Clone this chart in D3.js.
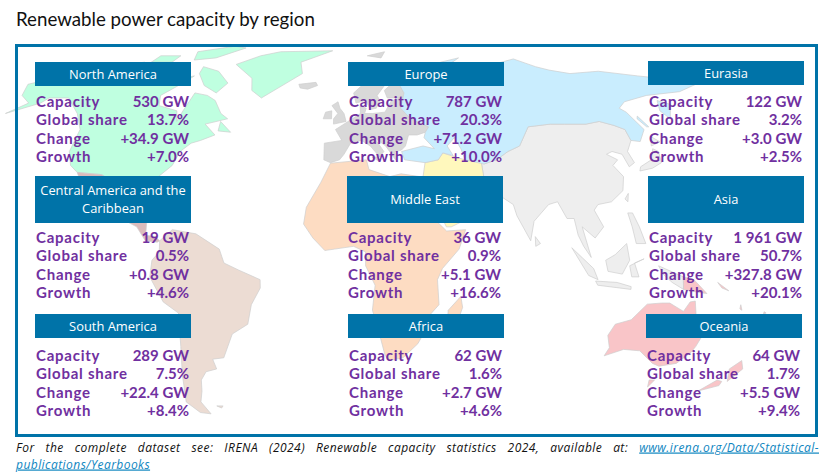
<!DOCTYPE html>
<html>
<head>
<meta charset="utf-8">
<script src="https://cdn.jsdelivr.net/npm/d3@7"></script>
<style>
html,body{margin:0;padding:0;background:#fff;}
svg{display:block;}
</style>
</head>
<body>
<div id="chart"></div>
<script>
// values
var regions = ["North America","Europe","Eurasia","Central America and the Caribbean","Middle East","Asia","South America","Africa","Oceania"];
var capacity = [530,787,122,19,36,1961,289,62,64];
var globalShare = [13.7,20.3,3.2,0.5,0.9,50.7,7.5,1.6,1.7];
var change = [34.9,71.2,3.0,0.8,5.1,327.8,22.4,2.7,5.5];
var growth = [7.0,10.0,2.5,4.6,16.6,20.1,8.4,4.6,9.4];
var rowLabels = ["Capacity","Global share","Change","Growth"];

// where each panel sits
var panelLeft = [35,348,648,35,347,648,35,348,646];
var headerTop = [62,62,61,176,176,176,314,314,314];
var headerHeight = [24,24,24,47,47,47,24,24,24];
var firstBaseline = [107,107,107,243,243,243,361,361,361];

// rough coastlines, [lon,lat]
var northAmerica = [
 [[-168,65.5],[-162,67],[-166,68.5],[-156,71],[-141,70],[-128,70],[-115,68],[-108,68],[-96,68],[-94,72],[-88,68],[-82,69],[-86,66],[-94,61],[-92,57],[-82,55],[-80,51],[-79,55],[-77,62],[-70,61],[-65,59],[-60,54],[-56,52],[-66,50],[-60,46],[-66,44],[-70,43],[-74,40],[-76,35],[-81,31],[-80,25],[-83,29],[-90,30],[-97,28],[-97,26],[-101,29.5],[-106,31.7],[-117,32.5],[-121,35],[-124,40],[-124,48],[-130,54],[-140,60],[-150,60],[-152,58],[-165,54],[-158,58],[-165,61]],
 [[-62,74],[-50,78],[-39,80],[-7,80.5],[-25,75],[-23,70],[-42,60],[-48,63],[-50,68]],
 [[-80,73],[-70,71],[-62,66],[-66,62],[-74,65],[-80,70]],
 [[-117,73],[-105,73],[-102,69],[-115,69]],
 [[-90,80],[-70,83],[-62,82],[-76,77],[-88,76]],
 [[-125,74],[-116,75],[-120,71],[-125,71]],
 [[-110,78],[-98,78],[-100,75],[-112,75]],
 [[-59,51],[-53,47],[-59,47.5]]
];
var centralAmerica = [
 [[-117,32.5],[-106,31.7],[-101,29.5],[-97,26],[-98,22],[-95,18.5],[-91,18.5],[-90,21],[-87,21],[-88,16],[-83,15],[-83,10],[-79,9.5],[-77,8],[-78,7.5],[-83,8],[-87,13],[-94,16],[-105,20],[-109,26],[-113,31],[-110,23],[-115,30]],
 [[-85,22],[-80,23],[-74,20],[-78,20]],
 [[-74,20],[-69,19.5],[-69,18],[-74,18]]
];
var southAmerica = [
 [[-77,8],[-72,12],[-62,10.5],[-52,5],[-50,0],[-44,-2.5],[-35,-6],[-35,-9],[-39,-15],[-41,-22],[-48,-25.5],[-53,-34],[-58,-34.5],[-57,-38],[-62,-39],[-65,-42],[-66,-46],[-68,-50],[-65,-54.5],[-70,-54],[-75,-50],[-73,-40],[-71,-30],[-70,-18],[-76,-14],[-81,-5],[-80,1],[-77,4]],
 [[-61,-51.5],[-58,-51.5],[-59,-52.3]]
];
var africa = [
 [[-6,35.8],[10,37],[11,33.5],[20,31],[25,32],[33,31],[34,28],[37,21],[39,15],[43,11.5],[51,12],[48,5],[41,-2],[39,-6],[40,-15],[35,-20],[35,-24],[32,-29],[26,-34],[20,-35],[18,-33],[14,-22],[12,-17],[13,-8],[9,-1],[9,4],[4,6],[-4,5],[-8,4.5],[-13,9],[-17,14],[-16,20],[-10,29]],
 [[49,-12],[50,-16],[47,-25],[44,-25],[44,-17]]
];
var middleEast = [
 [[36,36],[42,37],[44.5,39.5],[48,38.5],[54,37],[61,36.5],[61,30],[62,25],[57,26],[56,27],[52,27.5],[50,30],[48,30],[50,26],[52,24],[56,25],[59.5,22.5],[55,17],[45,13],[43,13],[39,21],[35,28],[34.5,31]]
];
var europe = [
 [[-9,37],[-9,43],[-1,44],[-4,48],[2,51],[8,54],[8,57],[11,56],[10,54],[14,54],[20,54.5],[24,59],[29,60],[22,60],[21,63],[25,65.5],[22,65.5],[17,61],[18,59],[16,56],[13,55.5],[11,59],[6,58],[5,62],[14,68],[25,71],[31,70],[29,66],[31,62],[28,56],[32,52],[40,49],[38,47],[34,46],[30,46],[28,42],[26,40.5],[23,40],[23,37],[19,42],[14,45],[18,40],[16,38],[12,42],[8,44],[3,43],[0,39],[-2,37],[-6,36]],
 [[-5,50],[1,51],[0,54],[-2,56],[-3,58.5],[-6,57],[-3,54],[-5,52]],
 [[-10,52],[-6,52],[-6,55],[-9,54.5]],
 [[-24,65.5],[-15,66.3],[-14,65],[-19,63.5],[-23,64]],
 [[12.5,38],[15.5,38],[15,36.8]],
 [[14,78],[25,80],[22,77]]
];
var eurasia = [
 [[28,70],[40,67],[44,68],[54,69],[68,69],[72,73],[80,73],[100,76.5],[109,73],[115,71.5],[125,70],[142,71],[161,69],[172,68],[187,65.5],[174,62.5],[155,61],[141,58.5],[136,56],[138,54.5],[141,48],[136,43.6],[132,44],[132,48],[128,49.5],[122,51],[115,50],[105,50],[98,50],[87,49],[80,42],[74,40],[68,37],[62,35.5],[54,37],[53,41],[51,45],[47,42],[49,38.5],[44.5,39.5],[42,37],[36,36],[27,37],[26,40],[36,42],[41,41],[37,45],[38,47],[40,49],[32,52],[28,56],[31,62],[29,66],[31,70]],
 [[52,71],[56,75],[68,77],[58,73]],
 [[158,59],[163,57.5],[157,52],[155,55]],
 [[142,53],[144,49],[143,49],[141,52]]
];
var asia = [
 [[62,35.5],[68,37],[74,40],[80,42],[87,49],[98,50],[105,50],[115,50],[122,51],[128,49.5],[132,48],[132,44],[128,40],[129,36],[126,34.5],[125,39],[121,40],[118,39],[122,37],[119,35],[122,31],[120,26],[114,22],[108,21],[106,19],[109,13],[105,9],[100,13],[103,2],[100,6],[98,10],[97,16],[94,16],[91,22],[87,21],[80,15],[78,8],[73,17],[72,21],[67,24],[62,25],[61,30],[61,36.5]],
 [[130,33],[136,34],[141,36],[142,40],[140,41],[137,37],[131,34.5]],
 [[140,42],[145,43.5],[142,45.5]],
 [[80,9.5],[82,7],[80,6]],
 [[120,23],[122,25],[121,22]],
 [[95,5.5],[104,-2],[106,-6],[102,-4.5]],
 [[109,1],[113,3],[118,7],[119,1],[116,-4],[110,-3]],
 [[105,-6.5],[114,-7],[120,-8.5],[120,-9.5],[106,-8]],
 [[119,-1],[125,1.5],[121,0],[123,-5],[120,-5]],
 [[120,18],[122,18],[124,13],[126,7],[122,7],[121,13]],
 [[131,-1],[141.5,-5],[142,-9.5],[137,-7],[133,-4]]
];
var oceania = [
 [[113.5,-26],[115.6,-22],[122,-20.4],[127.6,-14.8],[133.6,-14.4],[137,-14.4],[143.4,-17.4],[145.5,-14],[147.6,-13.7],[149,-18.5],[154,-26.7],[153,-30],[152,-32],[147.6,-36],[140.4,-37],[137,-36],[129.3,-31.5],[122,-31],[114.4,-33.3],[115.6,-30.4]],
 [[141.5,-5],[146,-6],[152,-11],[148,-10.5],[142,-9.5]],
 [[139,-42],[141.5,-42],[140,-44.5]],
 [[176,-35],[178.5,-38],[175,-42.5],[172.5,-38]],
 [[172.5,-42.5],[172.5,-44],[164.5,-46],[170,-42]],
 [[156,-7],[161,-10],[158,-9]],
 [[167,-15],[168,-17],[167,-16.5]],
 [[177.5,-17.5],[178.5,-18],[177.5,-18.3]]
];

var landLayers = [
 {shapes: northAmerica, fill: "#bfffe0"},
 {shapes: centralAmerica, fill: "#dcbcbc"},
 {shapes: southAmerica, fill: "#ecdcd3"},
 {shapes: africa, fill: "#fddcc2"},
 {shapes: europe, fill: "#d9d9d9"},
 {shapes: asia, fill: "#eeeeee"},
 {shapes: middleEast, fill: "#fff8bd"},
 {shapes: eurasia, fill: "#c9edfe"},
 {shapes: oceania, fill: "#f9c5c8"}
];

var blue = "#0073a8";
var purple = "#7030a0";

var svg = d3.select("#chart").append("svg")
	.attr("width",832)
	.attr("height",475);

// Natural Earth raw so that Chukotka can run past 180
var mapScale = 158;
var mapX = d3.scaleLinear().domain([0,1]).range([344,344+mapScale]);
var mapY = d3.scaleLinear().domain([0,1]).range([263,263-mapScale]);
var rad = Math.PI/180;
var coast = d3.line()
	.x(function(d){ return mapX(d3.geoNaturalEarth1Raw(d[0]*rad,d[1]*rad)[0]); })
	.y(function(d){ return mapY(d3.geoNaturalEarth1Raw(d[0]*rad,d[1]*rad)[1]); })
	.curve(d3.curveLinearClosed);

svg.append("text")
	.attr("x",16)
	.attr("y",26)
	.style("font-family","Lato")
	.style("font-size","18.7px")
	.style("fill","#111")
	.text("Renewable power capacity by region");

var land = svg.append("g");
landLayers.forEach(function(layer){
	land.selectAll(null)
		.data(layer.shapes)
		.enter()
		.append("path")
		.attr("d",coast)
		.attr("fill",layer.fill)
		.attr("stroke","#cfcfcf")
		.attr("stroke-width",0.7)
		.attr("stroke-linejoin","round");
});

svg.append("rect")
	.attr("x",16.5)
	.attr("y",45.5)
	.attr("width",800)
	.attr("height",390)
	.attr("fill","none")
	.attr("stroke",blue)
	.attr("stroke-width",3);

var intFormat = d3.formatLocale({thousands:"\u00a0",grouping:[3],decimal:".",currency:["",""]}).format(",d");
var plusFormat = d3.format("+.1f");
var shareFormat = d3.format(".1f");

function rowValues(i){
	return [
		intFormat(capacity[i]) + " GW",
		shareFormat(globalShare[i]) + "%",
		plusFormat(change[i]) + " GW",
		plusFormat(growth[i]) + "%"
	];
}

var rowY = d3.scaleLinear().domain([0,3]).range([0,55]);
var panelWidth = 156;

var panels = svg.selectAll("g.panel")
	.data(regions)
	.enter()
	.append("g")
	.attr("class","panel");

panels.append("rect")
	.attr("x",function(d,i){ return panelLeft[i]; })
	.attr("y",function(d,i){ return headerTop[i]; })
	.attr("width",panelWidth)
	.attr("height",function(d,i){ return headerHeight[i]; })
	.attr("fill",blue);

panels.each(function(d,i){
	var g = d3.select(this);
	var cx = panelLeft[i] + panelWidth/2;
	// the long name breaks in two lines
	var lines = d.length > 30 ? ["Central America and the","Caribbean"] : [d];
	var midY = headerTop[i] + headerHeight[i]/2;
	lines.forEach(function(line,k){
		g.append("text")
			.attr("x",cx)
			.attr("y",midY + 4.5 + (k-(lines.length-1)/2)*18)
			.attr("text-anchor","middle")
			.style("font-family","Open Sans")
			.style("font-size","12.9px")
			.style("fill","#fff")
			.text(line);
	});
	var values = rowValues(i);
	rowLabels.forEach(function(label,k){
		var y = firstBaseline[i] + rowY(k);
		g.append("text")
			.attr("x",panelLeft[i]+1)
			.attr("y",y)
			.style("font-family","Lato")
			.style("font-weight","700")
			.style("font-size","15px")
			.style("letter-spacing","0.75px")
			.style("fill",purple)
			.text(label);
		g.append("text")
			.attr("x",panelLeft[i]+154)
			.attr("y",y)
			.attr("text-anchor","end")
			.style("font-family","Lato")
			.style("font-weight","700")
			.style("font-size","15px")
			.style("fill",purple)
			.text(values[k]);
	});
});

// source note, first line is justified to the frame
var note = svg.append("text")
	.attr("x",16)
	.attr("y",451.5)
	.style("font-family","Open Sans")
	.style("font-style","italic")
	.style("font-size","12px")
	.style("letter-spacing","0.45px")
	.style("fill","#111");
note.append("tspan")
	.text("For the complete dataset see: IRENA (2024) Renewable capacity statistics 2024, available at: ");
note.append("tspan")
	.style("fill","#0f86bf")
	.style("text-decoration","underline")
	.text("www.irena.org/Data/Statistical-");
var gaps = 13;
var spare = 803 - note.node().getComputedTextLength();
note.style("word-spacing",(spare/gaps)+"px");

svg.append("text")
	.attr("x",16)
	.attr("y",468.5)
	.style("font-family","Open Sans")
	.style("font-style","italic")
	.style("font-size","12px")
	.style("letter-spacing","0.45px")
	.style("fill","#0f86bf")
	.style("text-decoration","underline")
	.text("publications/Yearbooks");
</script>
</body>
</html>
